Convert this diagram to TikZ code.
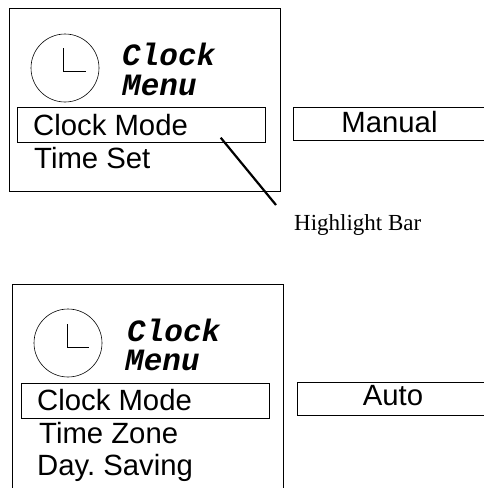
\documentclass[tikz,border=0pt]{standalone}
\usepackage{fontspec}
\setmainfont{Liberation Sans}
\newfontfamily\titlefont{Liberation Mono}
\newfontfamily\notefont{Liberation Serif}
\frenchspacing
\usetikzlibrary{positioning}
\tikzset{
panel/.style={draw, line width=.7pt, inner sep=0, minimum width=271, minimum height=183, anchor=north west},
bar/.style={draw, line width=.7pt, inner sep=0, minimum width=248, minimum height=35, anchor=north west},
item/.style={anchor=base west, inner sep=0, font=\fontsize{29.3}{29.3}\selectfont},
title/.style={anchor=base west, inner sep=0, font=\titlefont\bfseries\itshape\fontsize{31}{31}\selectfont},
face/.style={draw, circle, line width=.6pt, inner sep=0, minimum size=68},
value/.style={anchor=base, inner sep=0, font=\fontsize{29.3}{29.3}\selectfont}
}
\begin{document}
\begin{tikzpicture}[x=1pt, y=1pt]
\useasboundingbox (0,0) rectangle (484,-488);

% upper screen
\node[panel] (panel1) at (9,-8) {};
\node[face] (face1) at (65,-68) {};
\draw[line width=.6pt] (63,-48) -- (63,-71) -- (86,-71);
\node[title] (clock1) at (122,-65) {Clock};
\node[title] (menu1) at (122,-95) {Menu};
\node[bar] (bar1) at (17,-107) {};
\node[item] (mode1) at (33,-135) {Clock Mode};
\node[item] (set1) at (34,-168) {Time Set};
\draw[line width=.7pt] (484,-107) -- (293,-107) -- (293,-140) -- (484,-140);
\node[value] (manual) at (389.5,-132) {Manual};
\node[anchor=base west, inner sep=0, font=\notefont\fontsize{23}{23}\selectfont] (note) at (294,-230) {Highlight Bar};
\coordinate (tip) at (276,-205);
\draw[line width=2.2pt] ([shift={(-45,5)}]bar1.south east) -- (tip);

% lower screen
\draw[line width=.7pt] (12,-488) -- (12,-284) -- (283,-284) -- (283,-488);
\node[face] (face2) at (68,-343) {};
\draw[line width=.6pt] (67,-324) -- (67,-347) -- (89,-347);
\node[title] (clock2) at (127,-341) {Clock};
\node[title] (menu2) at (125,-370) {Menu};
\node[bar] (bar2) at (21,-383) {};
\node[item] (mode2) at (37,-410) {Clock Mode};
\node[item] (zone2) at (39,-443) {Time Zone};
\node[item] (saving2) at (37,-475) {Day. Saving};
\draw[line width=.7pt] (484,-382) -- (297,-382) -- (297,-415) -- (484,-415);
\node[value] (auto) at (393,-405) {Auto};

\end{tikzpicture}
\end{document}
